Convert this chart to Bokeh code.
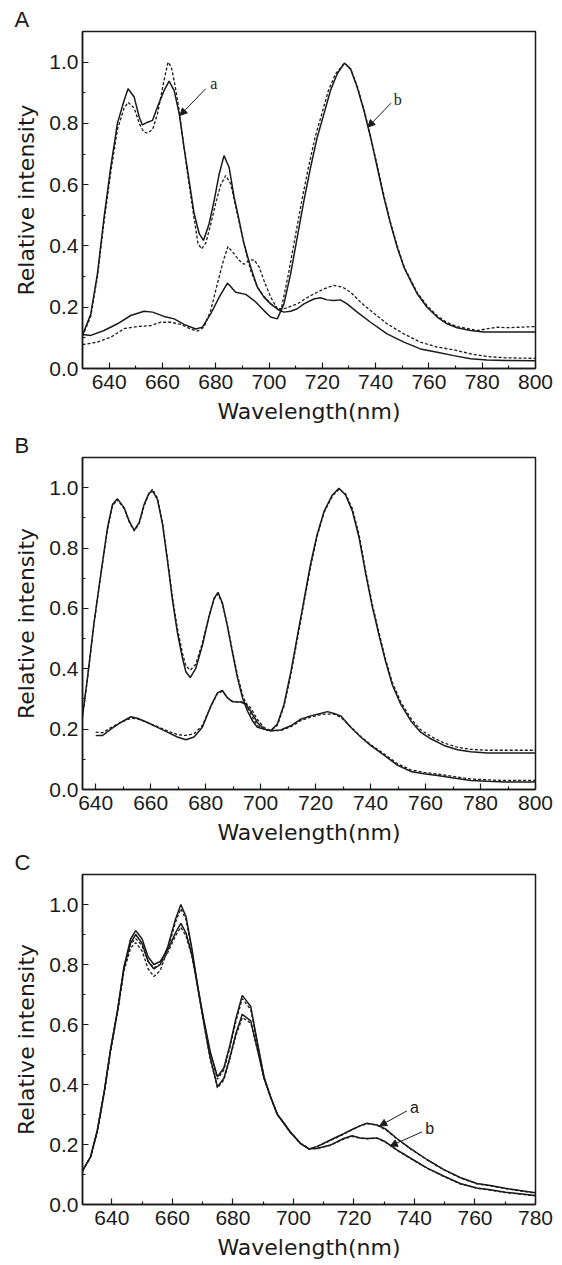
from bokeh.plotting import figure
from bokeh.layouts import column
from bokeh.models import FixedTicker, PrintfTickFormatter, Label, Arrow, NormalHead, Range1d, Title
from bokeh.embed import file_html
from bokeh.resources import INLINE

# ---------------- Panel A ----------------
A_a_solid_nm = [630, 633.1, 635.6, 638.1, 640.6, 643.1, 645.6, 647.1, 649.4, 651.3, 652.5, 654.4, 656.3, 658.1,
                660.6, 662.5, 664.4, 666.3, 668.1, 670, 671.9, 673.8, 675.4, 677.5, 679.4, 681.3, 683.1, 685,
                686.9, 688.8, 690.6, 693.1, 695.6, 698.1, 700.6, 703.8, 705.6, 708.1, 710.6, 713.1, 716.8, 719.3,
                721.8, 724.3, 726.8, 729.3, 733.1, 738.1, 744.3, 750.6, 756.8, 763.1, 769.3, 775.6, 781.8, 788.7, 800]
A_a_solid_y = [0.108, 0.178, 0.309, 0.494, 0.657, 0.80, 0.875, 0.913, 0.886, 0.82, 0.795, 0.804, 0.81, 0.853,
               0.907, 0.938, 0.907, 0.831, 0.722, 0.614, 0.505, 0.44, 0.418, 0.472, 0.548, 0.635, 0.695, 0.657,
               0.559, 0.483, 0.407, 0.331, 0.266, 0.233, 0.211, 0.19, 0.184, 0.187, 0.195, 0.211, 0.227, 0.231,
               0.224, 0.222, 0.224, 0.211, 0.184, 0.151, 0.113, 0.086, 0.064, 0.053, 0.042, 0.032, 0.028, 0.026, 0.025]

A_a_dash_nm = [630, 633.1, 635.6, 638.1, 640.6, 643.1, 645.6, 647.1, 649.4, 651.3, 653, 654.4, 656.3, 658.1,
               660.6, 662.1, 663.3, 664.4, 666.3, 668.1, 670, 671.9, 673.3, 674.6, 676.3, 678.1, 680, 681.9,
               683.75, 685.6, 688.1, 690.6, 693.1, 695.6, 698.1, 700.6, 703.8, 705.6, 710.6, 715.6, 720.6, 724.3,
               727.5, 730.6, 734.3, 738.1, 744.3, 750.6, 756.8, 763.1, 769.3, 775.6, 781.8, 788.7, 800]
A_a_dash_y = [0.105, 0.17, 0.30, 0.48, 0.64, 0.78, 0.85, 0.869, 0.85, 0.80, 0.772, 0.768, 0.78, 0.83,
              0.94, 1.0, 0.985, 0.94, 0.842, 0.72, 0.60, 0.49, 0.41, 0.39, 0.41, 0.47, 0.54, 0.60,
              0.63, 0.603, 0.505, 0.407, 0.32, 0.266, 0.235, 0.211, 0.195, 0.195, 0.211, 0.238, 0.26, 0.271,
              0.266, 0.249, 0.217, 0.189, 0.146, 0.113, 0.086, 0.07, 0.061, 0.048, 0.039, 0.035, 0.033]

A_b_solid_nm = [630, 633.1, 638.1, 643.1, 648.1, 653.1, 656.3, 660.6, 664.4, 668.1, 672.5, 675, 678.1, 681.3,
                684.4, 687.5, 691.3, 695, 698.1, 700.6, 703.1, 705.6, 708.1, 710.6, 713.1, 715.6, 718.1, 720.6,
                723.1, 725.6, 728.3, 730.6, 733.1, 735.6, 738.1, 740.6, 743.1, 745.6, 748.1, 750.6, 753.1, 755.6,
                759.3, 763.1, 766.8, 770.6, 775.6, 780.6, 788.1, 800]
A_b_solid_y = [0.111, 0.108, 0.124, 0.146, 0.173, 0.187, 0.184, 0.17, 0.162, 0.144, 0.129, 0.135, 0.178, 0.233,
               0.279, 0.249, 0.242, 0.217, 0.189, 0.168, 0.162, 0.211, 0.309, 0.429, 0.548, 0.657, 0.755, 0.831,
               0.908, 0.962, 0.997, 0.978, 0.918, 0.842, 0.755, 0.657, 0.559, 0.472, 0.396, 0.331, 0.287, 0.244,
               0.2, 0.168, 0.146, 0.133, 0.124, 0.119, 0.119, 0.119]

A_b_dash_nm = [630, 635.6, 640.6, 645.6, 650.6, 655.6, 659.4, 663.1, 666.9, 670.6, 673.1, 675.6, 678.1, 680.6,
               682.9, 684.6, 686.9, 688.8, 690.6, 692.5, 694.4, 696.3, 698.1, 700.6, 703.1, 704.5, 707.3, 709.8,
               712.3, 714.8, 717.3, 719.8, 722.3, 725, 728.3, 730.8, 733.3, 735.8, 738.3, 740.8, 743.3, 745.8,
               748.3, 750.8, 753.3, 755.8, 759.3, 763.1, 766.8, 770.6, 778.1, 785.6, 788.7, 795, 800]
A_b_dash_y = [0.078, 0.086, 0.102, 0.13, 0.137, 0.14, 0.151, 0.151, 0.144, 0.129, 0.122, 0.135, 0.189, 0.276,
              0.353, 0.398, 0.374, 0.353, 0.34, 0.353, 0.355, 0.331, 0.287, 0.233, 0.195, 0.19, 0.309, 0.429,
              0.548, 0.657, 0.755, 0.831, 0.908, 0.962, 0.997, 0.975, 0.915, 0.84, 0.75, 0.655, 0.557, 0.47,
              0.395, 0.33, 0.287, 0.245, 0.205, 0.172, 0.15, 0.137, 0.124, 0.135, 0.133, 0.135, 0.137]

# ---------------- Panel B ----------------
B_a_nm = [635.2, 637, 639.4, 641.9, 644.3, 646.1, 647.9, 650.4, 652.2, 654, 655.8, 657.6, 659.4, 660.7, 662.5,
          664.3, 666.1, 667.9, 669.7, 671.6, 672.8, 674.4, 676.4, 678.8, 681.3, 683.1, 684.5, 686.1, 687.9,
          689.7, 691.6, 693.4, 695.2, 697, 698.8, 701.3, 703.7, 707.3, 711, 714.6, 718.2, 721.8, 724.3, 726.7,
          729.1, 732.8, 736.4, 740, 744.9, 749.7, 754.6, 759.4, 764.3, 770.3, 776.4, 782.5, 789.1, 800]
B_a_solid_y = [0.244, 0.369, 0.553, 0.716, 0.868, 0.944, 0.963, 0.933, 0.889, 0.859, 0.884, 0.944, 0.982, 0.989,
               0.96, 0.879, 0.759, 0.629, 0.521, 0.434, 0.39, 0.371, 0.401, 0.477, 0.575, 0.634, 0.653, 0.618,
               0.542, 0.456, 0.369, 0.304, 0.26, 0.228, 0.206, 0.2, 0.195, 0.197, 0.211, 0.233, 0.244, 0.252,
               0.258, 0.252, 0.244, 0.206, 0.174, 0.146, 0.114, 0.081, 0.06, 0.052, 0.046, 0.038, 0.03, 0.027,
               0.025, 0.025]
B_a_dash_y = [0.24, 0.365, 0.55, 0.712, 0.862, 0.94, 0.96, 0.93, 0.886, 0.857, 0.88, 0.94, 0.98, 0.995,
              0.965, 0.885, 0.765, 0.64, 0.535, 0.45, 0.41, 0.395, 0.415, 0.485, 0.578, 0.632, 0.648, 0.615,
              0.545, 0.462, 0.378, 0.315, 0.272, 0.24, 0.212, 0.2, 0.195, 0.195, 0.208, 0.228, 0.24, 0.248,
              0.25, 0.25, 0.24, 0.207, 0.176, 0.149, 0.118, 0.086, 0.065, 0.057, 0.051, 0.043, 0.035, 0.032,
              0.03, 0.03]

B_b_nm = [640, 642.5, 645.5, 649.1, 652.8, 655.2, 658.8, 662.5, 666.1, 669.7, 672.8, 675.8, 678.8, 681.9,
          684.3, 686.1, 687.9, 689.7, 692.8, 694.6, 696.4, 698.8, 701.3, 703.7, 706.1, 708.5, 711, 713.4, 715.8,
          718.2, 720.6, 723.1, 726.1, 728.5, 730.9, 733.4, 735.8, 738.2, 740.6, 743.1, 745.5, 747.9, 751, 754.6,
          758.2, 761.9, 766.7, 771.6, 776.4, 782.5, 789.1, 800]
B_b_solid_y = [0.179, 0.179, 0.2, 0.222, 0.241, 0.236, 0.222, 0.206, 0.19, 0.174, 0.165, 0.174, 0.206, 0.277,
               0.32, 0.328, 0.304, 0.291, 0.29, 0.282, 0.26, 0.222, 0.2, 0.195, 0.217, 0.282, 0.39, 0.51, 0.629,
               0.748, 0.846, 0.922, 0.976, 0.998, 0.976, 0.922, 0.835, 0.716, 0.607, 0.51, 0.423, 0.347, 0.282,
               0.228, 0.19, 0.168, 0.146, 0.132, 0.125, 0.121, 0.121, 0.121]
B_b_dash_y = [0.19, 0.188, 0.205, 0.222, 0.236, 0.234, 0.222, 0.208, 0.194, 0.182, 0.179, 0.185, 0.212, 0.275,
              0.318, 0.325, 0.305, 0.292, 0.29, 0.287, 0.27, 0.232, 0.205, 0.195, 0.213, 0.275, 0.38, 0.5, 0.62,
              0.74, 0.84, 0.918, 0.972, 0.995, 0.98, 0.93, 0.845, 0.725, 0.615, 0.518, 0.43, 0.355, 0.29,
              0.236, 0.198, 0.176, 0.154, 0.14, 0.133, 0.13, 0.13, 0.13]

# ---------------- Panel C ----------------
C_nm = [630.3, 633, 635.2, 637.5, 639.6, 641.9, 644, 646.2, 647.9, 650, 652, 653.9, 656, 658.5, 661, 662.8,
        664.5, 666.5, 668.5, 670.5, 672.5, 674.9, 677, 679, 681, 683.1, 685.9, 688.1, 690.3, 692.4, 694.7,
        697, 699, 702.3, 705.1, 707.8, 712.2, 716.6, 719.4, 722.1, 724.3, 727.6, 730.4, 734.2, 738.6, 744.1,
        749.6, 755.1, 760.6, 765.1, 770, 780]
C_a_solid_y = [0.112, 0.16, 0.247, 0.377, 0.518, 0.648, 0.789, 0.872, 0.90, 0.87, 0.81, 0.785, 0.80, 0.86,
               0.95, 1.0, 0.96, 0.85, 0.72, 0.60, 0.49, 0.393, 0.42, 0.49, 0.57, 0.634, 0.612, 0.518, 0.42,
               0.36, 0.30, 0.27, 0.242, 0.204, 0.185, 0.193, 0.215, 0.236, 0.25, 0.263, 0.271, 0.265, 0.252,
               0.22, 0.187, 0.15, 0.117, 0.09, 0.07, 0.063, 0.054, 0.039]
C_a_dash_y = [0.112, 0.158, 0.243, 0.372, 0.512, 0.64, 0.778, 0.855, 0.873, 0.845, 0.785, 0.76, 0.78, 0.85,
              0.94, 0.986, 0.95, 0.845, 0.715, 0.595, 0.485, 0.388, 0.415, 0.485, 0.563, 0.623, 0.605, 0.515,
              0.42, 0.36, 0.30, 0.27, 0.242, 0.204, 0.185, 0.193, 0.213, 0.234, 0.249, 0.262, 0.27, 0.264,
              0.25, 0.219, 0.186, 0.149, 0.116, 0.089, 0.069, 0.062, 0.053, 0.038]
C_b_solid_y = [0.112, 0.16, 0.247, 0.377, 0.518, 0.648, 0.792, 0.885, 0.913, 0.885, 0.825, 0.80, 0.81, 0.85,
               0.905, 0.937, 0.905, 0.83, 0.72, 0.61, 0.51, 0.426, 0.455, 0.53, 0.62, 0.697, 0.66, 0.54, 0.425,
               0.36, 0.30, 0.268, 0.24, 0.204, 0.186, 0.187, 0.198, 0.22, 0.229, 0.222, 0.22, 0.222, 0.209,
               0.182, 0.155, 0.122, 0.095, 0.07, 0.055, 0.049, 0.041, 0.03]
C_b_dash_y = [0.112, 0.159, 0.245, 0.374, 0.515, 0.645, 0.786, 0.868, 0.886, 0.862, 0.81, 0.79, 0.80, 0.84,
              0.895, 0.924, 0.895, 0.825, 0.715, 0.605, 0.505, 0.418, 0.448, 0.522, 0.61, 0.686, 0.65, 0.535,
              0.423, 0.36, 0.30, 0.268, 0.24, 0.204, 0.186, 0.187, 0.197, 0.218, 0.227, 0.221, 0.219, 0.221,
              0.208, 0.181, 0.154, 0.121, 0.094, 0.069, 0.054, 0.048, 0.04, 0.029]

# tick values and labels
x_ticks_A = [640, 660, 680, 700, 720, 740, 760, 780, 800]
x_minor_A = [650, 670, 690, 710, 730, 750, 770, 790]
x_ticks_C = [640, 660, 680, 700, 720, 740, 760, 780]
x_minor_C = [650, 670, 690, 710, 730, 750, 770]
y_ticks = [0.0, 0.2, 0.4, 0.6, 0.8, 1.0]
y_minor = [0.1, 0.3, 0.5, 0.7, 0.9]

# annotation anchors (label text, text x, text y, arrow start x/y, arrow end x/y)
A_notes = [("a", 679.3, 0.931, 676.2, 0.913, 666.6, 0.826),
           ("b", 748.3, 0.877, 745.8, 0.866, 737.1, 0.788)]
C_notes = [("a", 740.0, 0.323, 737.5, 0.312, 728.5, 0.262),
           ("b", 745.0, 0.255, 742.5, 0.242, 732.0, 0.195)]

TICK_FONT = "Liberation Sans"
TITLE_FONT = "DejaVu Sans"
INK = "#1a1a1a"
LEFT = 82
FRAME_W = 453
WIDTH = 560


def make_panel(letter, xr, height, top, bottom, xt, xm):
    p = figure(width=WIDTH, height=height, x_range=Range1d(*xr), y_range=Range1d(0, 1.1),
               output_backend="svg", toolbar_location=None, title=None,
               min_border_left=LEFT, min_border_right=WIDTH - LEFT - FRAME_W,
               min_border_top=top, min_border_bottom=bottom)
    p.xgrid.visible = False
    p.ygrid.visible = False
    p.background_fill_color = "white"
    p.outline_line_color = INK
    p.outline_line_width = 1.5
    p.outline_line_alpha = 1.0
    p.xaxis.ticker = FixedTicker(ticks=xt, minor_ticks=xm)
    p.yaxis.ticker = FixedTicker(ticks=y_ticks, minor_ticks=y_minor)
    p.yaxis.formatter = PrintfTickFormatter(format="%.1f")
    for ax in (p.xaxis[0], p.yaxis[0]):
        ax.axis_line_color = INK
        ax.axis_line_width = 1.5
        ax.major_tick_in = 6
        ax.major_tick_out = 0
        ax.minor_tick_in = 3
        ax.minor_tick_out = 0
        ax.major_tick_line_color = INK
        ax.minor_tick_line_color = INK
        ax.major_tick_line_width = 1.2
        ax.minor_tick_line_width = 1.2
        ax.major_label_text_font = TICK_FONT
        ax.major_label_text_font_size = "21px"
        ax.major_label_text_color = INK
        ax.axis_label_text_font = TITLE_FONT
        ax.axis_label_text_font_size = "22px"
        ax.axis_label_text_font_style = "normal"
        ax.axis_label_text_color = INK
    p.xaxis.axis_label = "Wavelength(nm)"
    p.yaxis.axis_label = "Relative intensity"
    p.xaxis.major_label_standoff = 6
    p.xaxis.axis_label_standoff = 7
    p.yaxis.major_label_standoff = 4
    p.yaxis.axis_label_standoff = 7
    t = Title(text=letter, align="left", offset=14 - LEFT, standoff=0,
              text_font=TICK_FONT, text_font_size="22px", text_font_style="normal", text_color=INK)
    p.add_layout(t, "above")
    return p


def add_curve(p, xs, ys, dashed):
    if dashed:
        p.line(xs, ys, line_color=INK, line_width=1.3, line_dash="3 2")
    else:
        p.line(xs, ys, line_color=INK, line_width=1.5)


def add_notes(p, notes, font):
    for txt, tx, ty, x0, y0, x1, y1 in notes:
        p.add_layout(Arrow(end=NormalHead(size=7, fill_color=INK, line_color=INK, line_width=1),
                           x_start=x0, y_start=y0, x_end=x1, y_end=y1, line_color=INK, line_width=1))
        p.add_layout(Label(x=tx, y=ty, text=txt, text_font=font, text_font_size="16px", text_color=INK,
                           text_align="center", text_baseline="middle"))


pA = make_panel("A", (630, 800), 430, 31, 62, x_ticks_A, x_minor_A)
add_curve(pA, A_a_solid_nm, A_a_solid_y, False)
add_curve(pA, A_a_dash_nm, A_a_dash_y, True)
add_curve(pA, A_b_solid_nm, A_b_solid_y, False)
add_curve(pA, A_b_dash_nm, A_b_dash_y, True)
add_notes(pA, A_notes, "Liberation Serif")

pB = make_panel("B", (635.2, 800), 417, 22, 57, x_ticks_A, x_minor_A)
add_curve(pB, B_a_nm, B_a_solid_y, False)
add_curve(pB, B_a_nm, B_a_dash_y, True)
add_curve(pB, B_b_nm, B_b_solid_y, False)
add_curve(pB, B_b_nm, B_b_dash_y, True)

pC = make_panel("C", (630.3, 780), 415, 22, 55, x_ticks_C, x_minor_C)
add_curve(pC, C_nm, C_a_solid_y, False)
add_curve(pC, C_nm, C_a_dash_y, True)
add_curve(pC, C_nm, C_b_solid_y, False)
add_curve(pC, C_nm, C_b_dash_y, True)
add_notes(pC, C_notes, "Liberation Sans")

layout = column(pA, pB, pC, spacing=0)
open("out.html", "w").write(file_html(layout, INLINE))
